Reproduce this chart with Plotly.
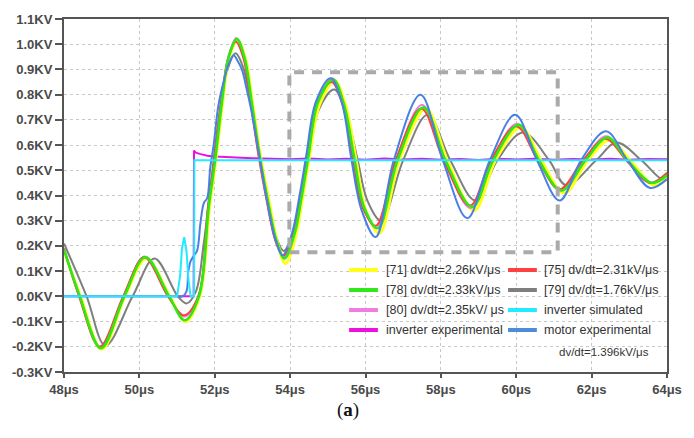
import plotly.graph_objects as go

# ---------------- data ----------------
t_green = [48.0, 48.42, 48.98, 49.6, 50.16, 50.79, 51.2, 51.58, 51.84, 52.01, 52.19, 52.37, 52.59, 52.8, 52.98, 53.2,
           53.42, 53.64, 53.85, 54.12, 54.3, 54.48, 54.74, 55.14, 55.43, 55.7, 55.97, 56.33, 56.85, 57.54, 58.12,
           58.83, 59.39, 60.07, 60.6, 61.2, 61.84, 62.42, 62.95, 63.6, 64.0]
v_green = [0.185, 0.0, -0.206, 0.0, 0.155, 0.0, -0.095, 0.0, 0.355, 0.54, 0.77, 0.95, 1.02, 0.94, 0.77, 0.55,
           0.37, 0.22, 0.15, 0.25, 0.39, 0.55, 0.77, 0.86, 0.76, 0.55, 0.35, 0.27, 0.54, 0.75, 0.54,
           0.355, 0.54, 0.68, 0.54, 0.42, 0.54, 0.63, 0.54, 0.45, 0.48]

t_red = [48.0, 48.4, 48.95, 49.57, 50.13, 50.76, 51.18, 51.56, 51.82, 51.99, 52.17, 52.35, 52.56, 52.77, 52.95, 53.17,
         53.39, 53.61, 53.82, 54.08, 54.26, 54.44, 54.7, 55.1, 55.39, 55.66, 55.93, 56.28, 56.8, 57.48, 58.07,
         58.77, 59.33, 60.0, 60.57, 61.15, 61.77, 62.37, 62.92, 63.55, 64.0]
v_red = [0.19, 0.0, -0.2, 0.0, 0.155, 0.0, -0.075, 0.0, 0.355, 0.54, 0.77, 0.94, 1.01, 0.94, 0.77, 0.55,
         0.37, 0.22, 0.16, 0.25, 0.39, 0.55, 0.76, 0.85, 0.76, 0.55, 0.35, 0.28, 0.54, 0.745, 0.54,
         0.36, 0.54, 0.675, 0.54, 0.425, 0.54, 0.625, 0.54, 0.45, 0.49]

t_yellow = [48.0, 48.44, 49.0, 49.62, 50.18, 50.81, 51.23, 51.6, 51.86, 52.03, 52.21, 52.39, 52.61, 52.82, 53.0, 53.22,
            53.45, 53.67, 53.88, 54.15, 54.33, 54.51, 54.78, 55.18, 55.47, 55.74, 56.01, 56.37, 56.9, 57.6, 58.17,
            58.88, 59.45, 60.12, 60.66, 61.27, 61.9, 62.48, 63.02, 63.66, 64.0]
v_yellow = [0.18, 0.0, -0.21, 0.0, 0.15, 0.0, -0.1, 0.0, 0.35, 0.54, 0.77, 0.95, 1.015, 0.94, 0.77, 0.55,
            0.37, 0.21, 0.13, 0.24, 0.39, 0.55, 0.76, 0.855, 0.76, 0.55, 0.34, 0.25, 0.54, 0.745, 0.54,
            0.34, 0.54, 0.67, 0.54, 0.41, 0.54, 0.62, 0.54, 0.44, 0.47]

t_pink = [48.0, 48.41, 48.96, 49.58, 50.14, 50.77, 51.19, 51.57, 51.83, 52.0, 52.18, 52.36, 52.57, 52.78, 52.96, 53.18,
          53.4, 53.62, 53.83, 54.1, 54.28, 54.46, 54.72, 55.12, 55.41, 55.68, 55.95, 56.3, 56.82, 57.5, 58.09,
          58.79, 59.35, 60.02, 60.58, 61.17, 61.79, 62.39, 62.93, 63.57, 64.0]
v_pink = [0.19, 0.0, -0.2, 0.0, 0.158, 0.0, -0.08, 0.0, 0.355, 0.54, 0.77, 0.95, 1.025, 0.95, 0.77, 0.55,
          0.37, 0.22, 0.155, 0.25, 0.39, 0.55, 0.77, 0.865, 0.77, 0.55, 0.35, 0.27, 0.54, 0.76, 0.54,
          0.35, 0.54, 0.685, 0.54, 0.42, 0.54, 0.635, 0.54, 0.45, 0.485]

t_gray = [48.0, 48.6, 49.1, 49.82, 50.4, 51.02, 51.25, 51.5, 51.7, 51.9, 52.1, 52.3, 52.55, 52.75, 52.95, 53.2,
          53.42, 53.62, 53.83, 54.1, 54.3, 54.5, 54.76, 55.17, 55.5, 55.78, 56.05, 56.42, 57.0, 57.65, 58.25,
          58.92, 59.5, 60.18, 60.87, 61.33, 62.12, 62.66, 63.32, 63.87, 64.0]
v_gray = [0.21, 0.0, -0.195, 0.0, 0.15, 0.0, -0.028, 0.02, 0.2, 0.45, 0.7, 0.88, 0.964, 0.91, 0.77, 0.55,
          0.38, 0.24, 0.18, 0.26, 0.39, 0.55, 0.74, 0.82, 0.72, 0.55, 0.38, 0.30, 0.54, 0.72, 0.54,
          0.38, 0.54, 0.65, 0.54, 0.44, 0.54, 0.61, 0.54, 0.465, 0.475]

t_blue = [48.0, 49.0, 50.0, 50.6, 51.0, 51.15, 51.25, 51.3, 51.36, 51.44, 51.53, 51.62, 51.71, 51.8, 51.88, 51.97, 52.1,
          52.25, 52.37, 52.5, 52.62, 52.72, 52.85, 52.98, 53.2, 53.4, 53.6, 53.8, 54.05, 54.25, 54.43, 54.68, 55.07,
          55.37, 55.63, 55.9, 56.27, 56.75, 57.46, 58.05, 58.7, 59.3, 59.97, 60.55, 61.15, 61.72, 62.38, 62.95,
          63.55, 64.0]
v_blue = [0.0, 0.0, 0.0, 0.0, 0.0, 0.0, 0.02, 0.1, 0.14, 0.16, 0.18, 0.29, 0.37, 0.39, 0.51, 0.6, 0.76,
          0.86, 0.92, 0.956, 0.93, 0.9, 0.82, 0.73, 0.54, 0.37, 0.23, 0.163, 0.25, 0.4, 0.56, 0.77, 0.865,
          0.77, 0.54, 0.34, 0.235, 0.54, 0.80, 0.54, 0.31, 0.54, 0.72, 0.54, 0.38, 0.54, 0.655, 0.54,
          0.43, 0.465]

t_cyan = [48.0, 51.0, 51.08, 51.13, 51.19, 51.25, 51.3, 51.36, 51.45, 51.46, 64.0]
v_cyan = [0.0, 0.0, 0.08, 0.19, 0.235, 0.18, 0.07, 0.0, 0.0, 0.54, 0.54]

t_mag = [48.0, 51.44, 51.45, 51.5, 51.6, 51.8, 52.0, 52.3, 52.6, 53.0, 53.5, 54.0, 54.5, 55.0, 55.5, 56.0,
         56.5, 57.0, 57.5, 58.0, 58.5, 59.0, 59.5, 60.0, 60.5, 61.0, 61.5, 62.0, 62.5, 63.0, 63.5, 64.0]
v_mag = [0.0, 0.0, 0.578, 0.57, 0.565, 0.558, 0.555, 0.552, 0.55, 0.548, 0.546, 0.544, 0.547, 0.543, 0.546, 0.542,
         0.547, 0.543, 0.546, 0.542, 0.545, 0.541, 0.546, 0.543, 0.546, 0.542, 0.545, 0.543, 0.546, 0.542, 0.545, 0.544]

y_ticks = [1.1, 1.0, 0.9, 0.8, 0.7, 0.6, 0.5, 0.4, 0.3, 0.2, 0.1, 0.0, -0.1, -0.2, -0.3]
y_labels = ["1.1KV", "1.0KV", "0.9KV", "0.8KV", "0.7KV", "0.6KV", "0.5KV", "0.4KV", "0.3KV", "0.2KV",
            "0.1KV", "0.0KV", "-0.1KV", "-0.2KV", "-0.3KV"]
x_ticks = [48, 50, 52, 54, 56, 58, 60, 62, 64]
x_labels = ["48μs", "50μs", "52μs", "54μs", "56μs", "58μs", "60μs", "62μs", "64μs"]

legend_names = ["[71] dv/dt=2.26kV/μs", "[75] dv/dt=2.31kV/μs",
                "[78] dv/dt=2.33kV/μs", "[79] dv/dt=1.76kV/μs",
                "[80] dv/dt=2.35kV/ μs", "inverter simulated",
                "inverter experimental", "motor experimental"]
note_text = "dv/dt=1.396kV/μs"
caption = "(<b>a</b>)"

# ---------------- styles ----------------
C_YEL = "#ffff1a"
C_RED = "#ff4040"
C_GRN = "#2ee81a"
C_GRY = "#7f7f7f"
C_PNK = "#f07ce0"
C_CYN = "#22eaff"
C_MAG = "#ee10e0"
C_BLU = "#4a80e4"
C_BLU_LEG = "#4a8ed8"

fig = go.Figure()

def add(t, v, color, width, shape="spline"):
    fig.add_trace(go.Scatter(x=t, y=v, mode="lines",
                             line=dict(color=color, width=width, shape=shape,
                                       smoothing=1.0 if shape == "spline" else None),
                             showlegend=False, hoverinfo="skip"))

add(t_mag, v_mag, C_MAG, 2, "linear")
add(t_gray, v_gray, C_GRY, 2)
add(t_yellow, v_yellow, C_YEL, 3)
add(t_pink, v_pink, C_PNK, 2)
add(t_red, v_red, C_RED, 2)
add(t_green, v_green, C_GRN, 2.6)
add(t_blue, v_blue, C_BLU, 2)
add(t_cyan, v_cyan, C_CYN, 2, "linear")

# dashed zoom box
fig.add_shape(type="rect", xref="x", yref="y", x0=53.98, x1=61.1, y0=0.175, y1=0.889,
              line=dict(color="#aaaaaa", width=4, dash="10px,8px"), layer="above")

# manual legend
L, R, T, B = 61, 668, 19, 372
W, H = R - L, B - T
def px(x):
    return (x - L) / W
def py(y):
    return (B - y) / H

leg_colors = [C_YEL, C_RED, C_GRN, C_GRY, C_PNK, C_CYN, C_MAG, C_BLU_LEG]
rows_y = [270, 290, 310, 330]
col_line = [(348, 377), (508, 537)]
col_text = [383, 542]
for i, name in enumerate(legend_names):
    r, c = divmod(i, 2)
    yy = py(rows_y[r])
    x0, x1 = col_line[c]
    fig.add_shape(type="line", xref="paper", yref="paper", x0=px(x0), x1=px(x1), y0=yy, y1=yy,
                  line=dict(color=leg_colors[i], width=4), layer="above")
    fig.add_annotation(xref="paper", yref="paper", x=px(col_text[c]), y=yy, text=name,
                       showarrow=False, xanchor="left", yanchor="middle",
                       font=dict(family="Liberation Sans", size=12.5, color="#333333"))
fig.add_annotation(xref="paper", yref="paper", x=px(652), y=py(352), text=note_text,
                   showarrow=False, xanchor="right", yanchor="middle",
                   font=dict(family="Liberation Sans", size=11.5, color="#333333"))
fig.add_annotation(xref="paper", yref="paper", x=px(347), y=py(410), text=caption,
                   showarrow=False, xanchor="center", yanchor="middle",
                   font=dict(family="Liberation Serif", size=19, color="#111111"))

axis_font = dict(family="Liberation Sans", size=13, color="#4a4a4a", weight="bold")
fig.update_xaxes(range=[48, 64], tickvals=x_ticks, ticktext=x_labels, showgrid=True,
                 gridcolor="#c8c8c8", griddash="dot", gridwidth=1, zeroline=False,
                 showline=True, linecolor="#555555", linewidth=2, mirror=True,
                 ticks="outside", ticklen=4, tickwidth=2, tickcolor="#555555",
                 tickfont=axis_font)
fig.update_yaxes(range=[-0.3, 1.1], tickvals=y_ticks, ticktext=y_labels, showgrid=True,
                 gridcolor="#c8c8c8", griddash="dot", gridwidth=1, zeroline=False,
                 showline=True, linecolor="#555555", linewidth=2, mirror=True,
                 ticks="outside", ticklen=7, tickwidth=2, tickcolor="#555555",
                 tickfont=axis_font)
fig.update_layout(width=694, height=438, margin=dict(l=61, r=26, t=19, b=66),
                  paper_bgcolor="white", plot_bgcolor="white", showlegend=False)

fig.write_html("out.html")
